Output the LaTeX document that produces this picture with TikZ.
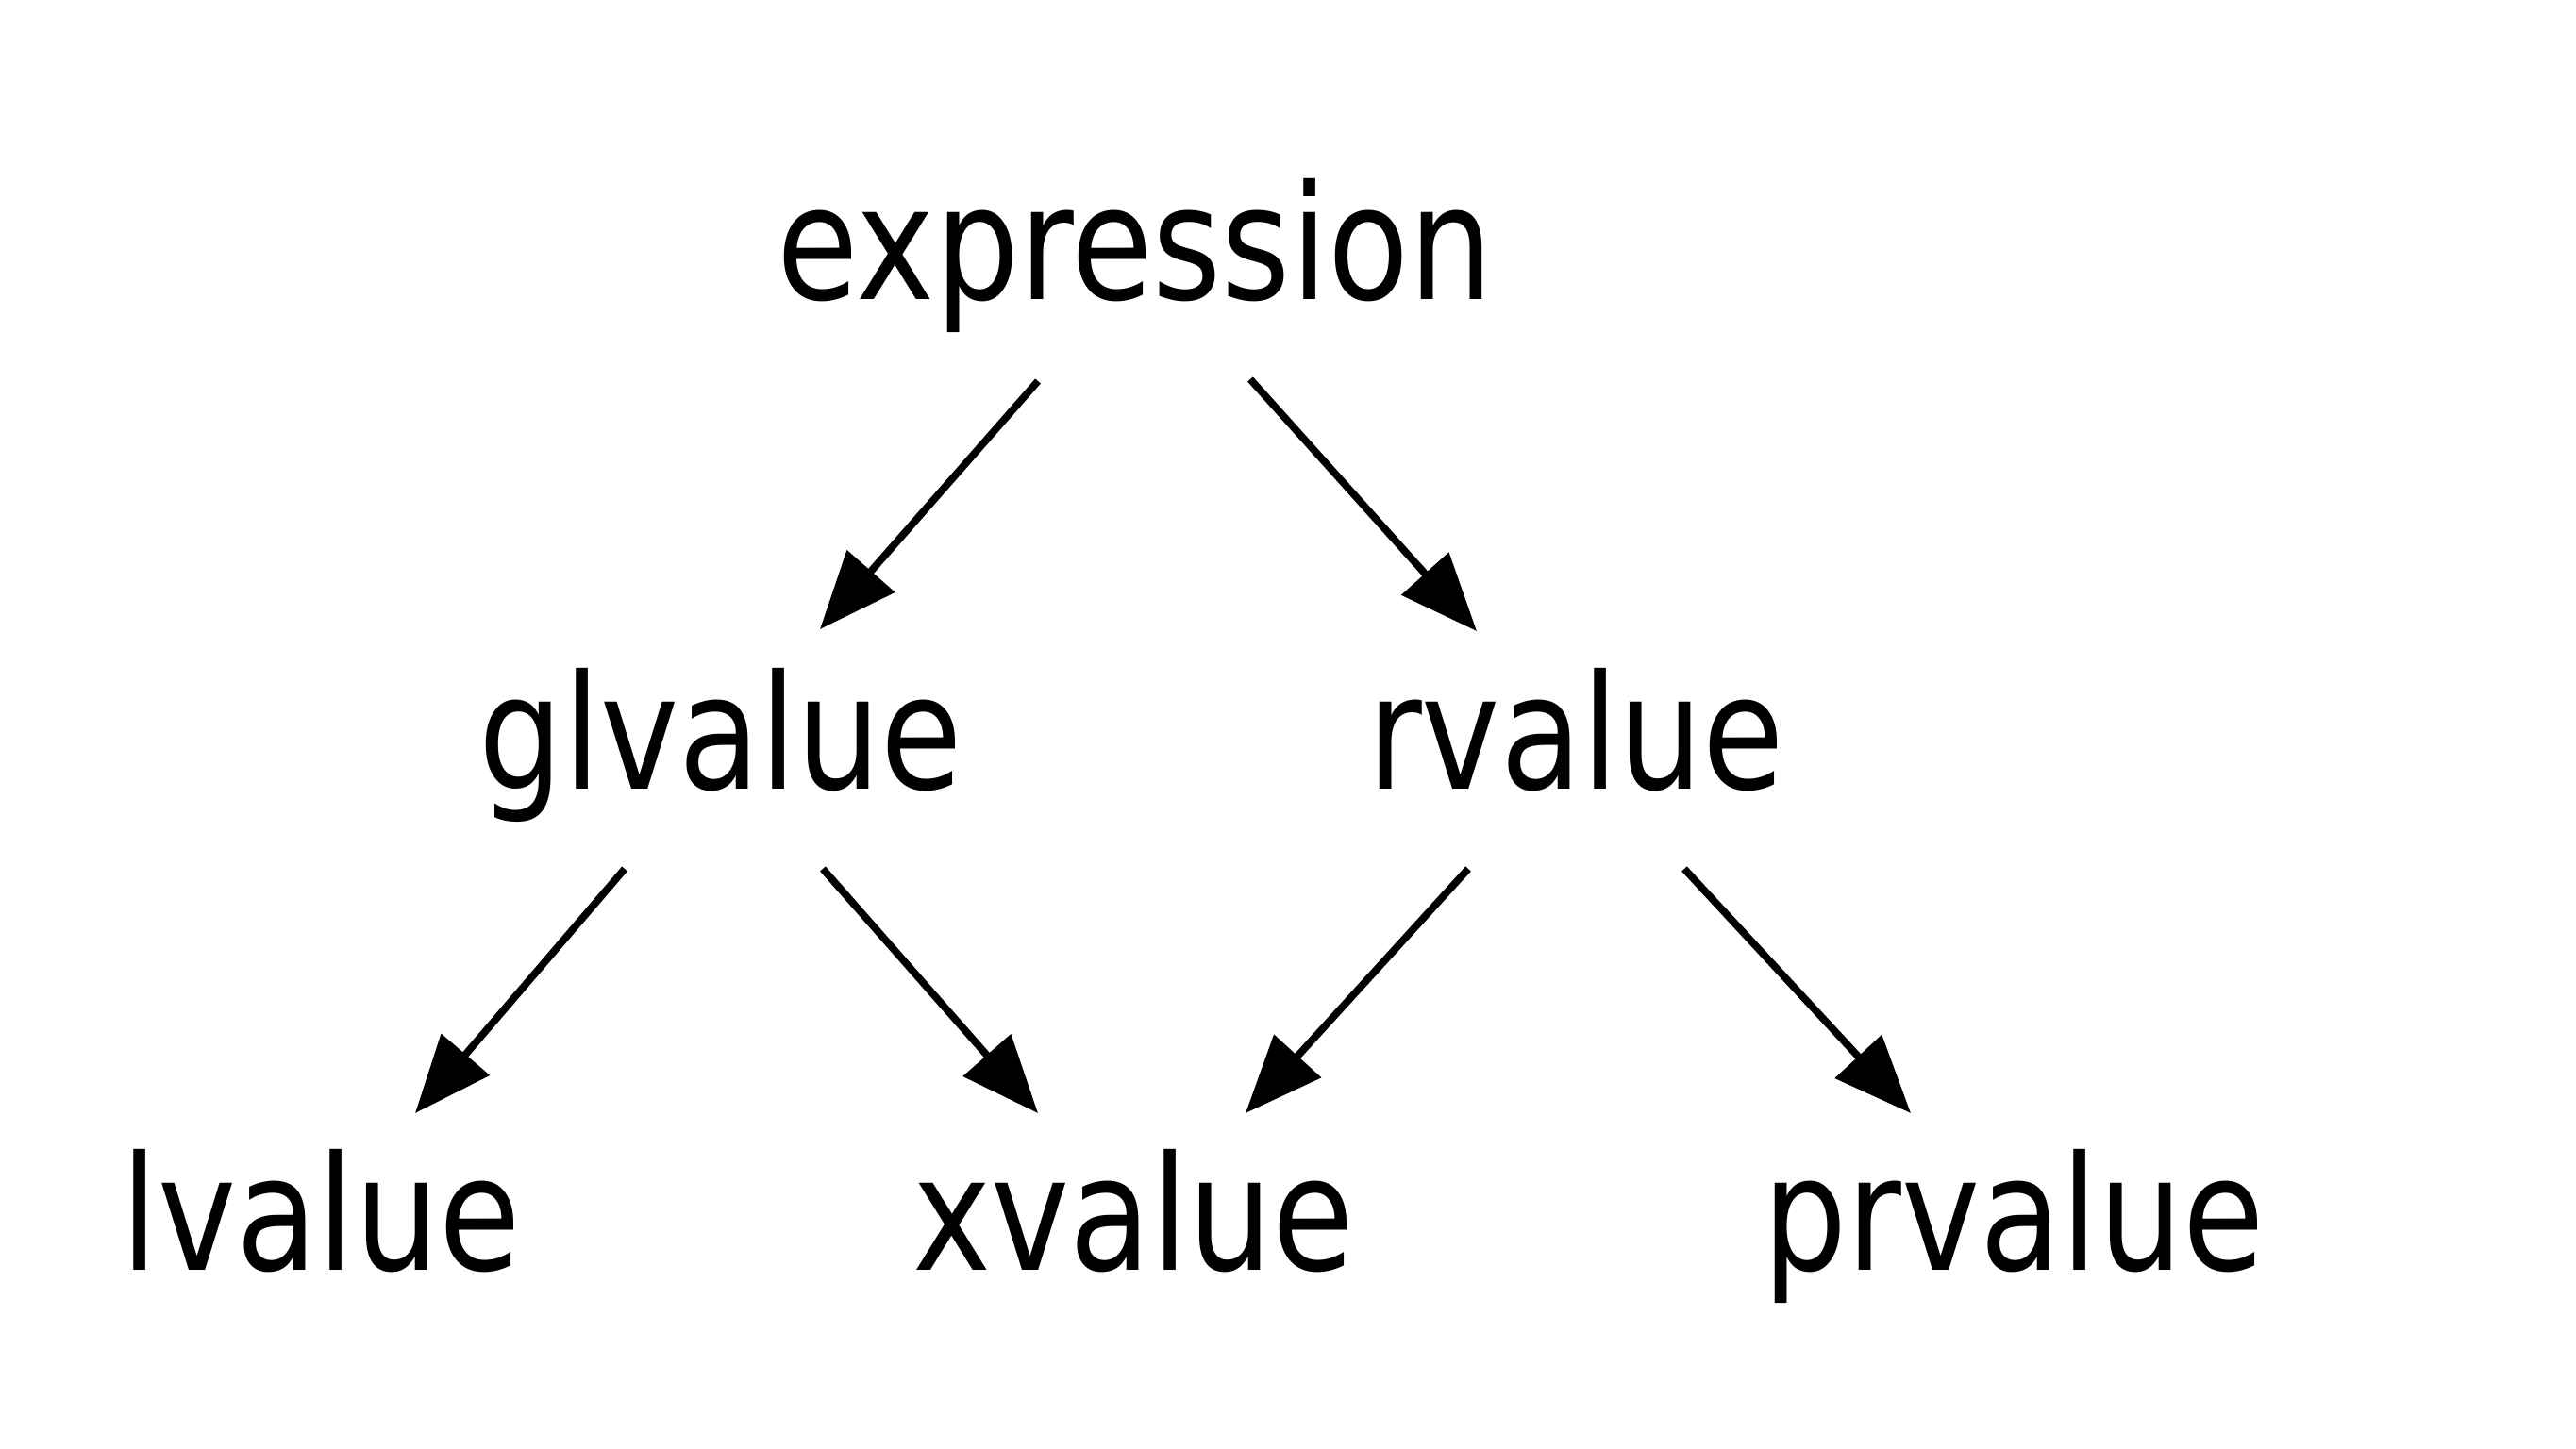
\documentclass[tikz,border=0pt]{standalone}
\usepackage{fontspec}
\setmainfont{DejaVu Sans}
\usetikzlibrary{arrows.meta,calc}
\begin{document}
\begin{tikzpicture}[
  lbl/.style={anchor=base, inner sep=0pt, font=\fontsize{40}{48}\selectfont},
  arr/.style={line width=2.2pt, -{Triangle[length=0.82cm,width=0.66cm]}}
]
\fill[white] (0,0) rectangle (27.30,-15.35);
\useasboundingbox (0,0) rectangle (27.30,-15.35);
\newcommand{\tall}[1]{\scalebox{1}[1.2]{#1}}
\node[lbl] (ex) at (12.03,-3.17) {\tall{expression}};
\node[lbl] (gl) at (7.64,-8.36) {\tall{glvalue}};
\node[lbl] (rv) at (16.70,-8.36) {\tall{rvalue}};
\node[lbl] (lv) at (3.40,-13.46) {\tall{lvalue}};
\node[lbl] (xv) at (12.01,-13.46) {\tall{xvalue}};
\node[lbl] (pr) at (21.34,-13.46) {\tall{prvalue}};
\draw[arr] ($(ex.base)+(-1.03,-0.87)$) -- ($(gl.base)+(1.05,1.69)$);
\draw[arr] ($(ex.base)+(1.22,-0.85)$) -- ($(rv.base)+(-1.05,1.67)$);
\draw[arr] ($(gl.base)+(-1.02,-0.85)$) -- ($(lv.base)+(1.00,1.66)$);
\draw[arr] ($(gl.base)+(1.08,-0.85)$) -- ($(xv.base)+(-1.01,1.66)$);
\draw[arr] ($(rv.base)+(-1.14,-0.85)$) -- ($(xv.base)+(1.19,1.66)$);
\draw[arr] ($(rv.base)+(1.15,-0.85)$) -- ($(pr.base)+(-1.09,1.66)$);
\end{tikzpicture}
\end{document}
